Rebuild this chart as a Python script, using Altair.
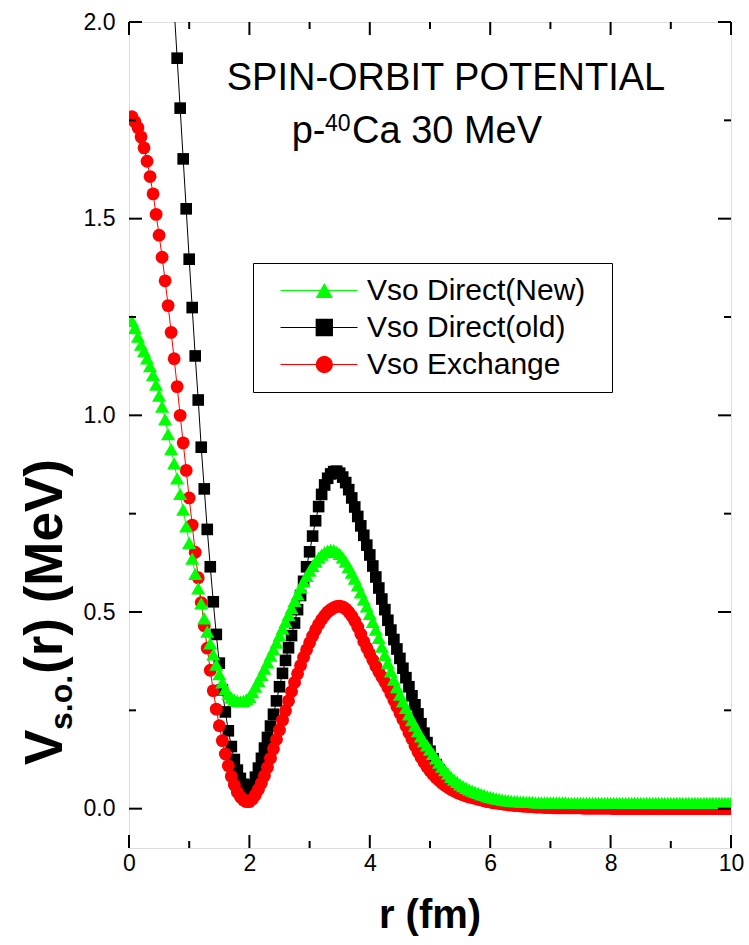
import altair as alt
import pandas as pd

FONT = "Liberation Sans"

NAMES = ["Vso Direct(New)", "Vso Direct(old)", "Vso Exchange"]
COLORS = ["#00ff00", "#000000", "#ff0000"]
SHAPES = ["triangle-up", "square", "circle"]
MARK_SIZES = {"Vso Direct(New)": 200, "Vso Direct(old)": 135, "Vso Exchange": 165}

X_MAJOR = [0, 2, 4, 6, 8, 10]
X_MINOR = [1, 3, 5, 7, 9]
Y_MAJOR = [0.0, 0.5, 1.0, 1.5, 2.0]
Y_MINOR = [0.25, 0.75, 1.25, 1.75]

# r = 0.05 ... 10.00 fm (step 0.05)
vso_direct_new = [
    1.240, 1.222, 1.200, 1.180, 1.163, 1.145, 1.125, 1.103, 1.078, 1.050,
    1.022, 0.990, 0.952, 0.914, 0.878, 0.840, 0.800, 0.760, 0.718, 0.676,
    0.636, 0.597, 0.560, 0.522, 0.484, 0.450, 0.420, 0.392, 0.366, 0.342,
    0.321, 0.304, 0.291, 0.282, 0.277, 0.274, 0.273, 0.274, 0.278, 0.284,
    0.296, 0.310, 0.325, 0.340, 0.356, 0.372, 0.389, 0.405, 0.422, 0.440,
    0.458, 0.475, 0.493, 0.510, 0.528, 0.545, 0.562, 0.578, 0.592, 0.605,
    0.617, 0.628, 0.638, 0.646, 0.652, 0.656, 0.658, 0.657, 0.653, 0.648,
    0.639, 0.628, 0.615, 0.600, 0.585, 0.568, 0.550, 0.532, 0.514, 0.495,
    0.475, 0.455, 0.434, 0.412, 0.391, 0.370, 0.349, 0.328, 0.309, 0.290,
    0.273, 0.256, 0.240, 0.225, 0.211, 0.197, 0.184, 0.172, 0.161, 0.150,
    0.139, 0.128, 0.117, 0.107, 0.098, 0.089, 0.081, 0.074, 0.068, 0.062,
    0.057, 0.053, 0.049, 0.046, 0.043, 0.040, 0.037, 0.035, 0.032, 0.030,
    0.028, 0.026, 0.025, 0.023, 0.022, 0.021, 0.020, 0.019, 0.019, 0.018,
    0.018, 0.017, 0.017, 0.017, 0.016, 0.016, 0.016, 0.016, 0.016, 0.016,
    0.016, 0.016, 0.016, 0.016, 0.016, 0.015, 0.015, 0.015, 0.015, 0.015,
    0.015, 0.015, 0.015, 0.015, 0.015, 0.015, 0.015, 0.015, 0.015, 0.015,
    0.015, 0.015, 0.015, 0.015, 0.015, 0.015, 0.015, 0.015, 0.015, 0.015,
    0.015, 0.015, 0.015, 0.015, 0.015, 0.015, 0.015, 0.015, 0.015, 0.015,
    0.015, 0.015, 0.015, 0.015, 0.015, 0.015, 0.015, 0.015, 0.015, 0.015,
    0.015, 0.015, 0.015, 0.015, 0.015, 0.015, 0.015, 0.015, 0.015, 0.015,
]

# r = 0.05 ... 10.00 fm (step 0.05)
vso_exchange = [
    1.759, 1.746, 1.731, 1.708, 1.680, 1.646, 1.607, 1.563, 1.511, 1.458,
    1.402, 1.342, 1.279, 1.211, 1.144, 1.073, 1.000, 0.930, 0.860, 0.790,
    0.721, 0.652, 0.587, 0.524, 0.465, 0.408, 0.352, 0.300, 0.253, 0.211,
    0.173, 0.139, 0.109, 0.082, 0.060, 0.042, 0.030, 0.022, 0.018, 0.018,
    0.024, 0.035, 0.049, 0.065, 0.084, 0.105, 0.128, 0.152, 0.176, 0.200,
    0.225, 0.249, 0.274, 0.298, 0.321, 0.343, 0.364, 0.385, 0.404, 0.422,
    0.439, 0.455, 0.469, 0.481, 0.491, 0.500, 0.506, 0.511, 0.514, 0.515,
    0.513, 0.508, 0.500, 0.490, 0.477, 0.462, 0.444, 0.425, 0.409, 0.394,
    0.378, 0.362, 0.348, 0.335, 0.322, 0.308, 0.292, 0.276, 0.260, 0.243,
    0.227, 0.210, 0.193, 0.177, 0.160, 0.145, 0.131, 0.118, 0.106, 0.096,
    0.087, 0.079, 0.072, 0.065, 0.059, 0.054, 0.049, 0.045, 0.041, 0.038,
    0.035, 0.032, 0.030, 0.028, 0.026, 0.024, 0.022, 0.020, 0.018, 0.017,
    0.015, 0.014, 0.013, 0.012, 0.011, 0.010, 0.009, 0.008, 0.008, 0.007,
    0.006, 0.006, 0.005, 0.005, 0.004, 0.004, 0.004, 0.003, 0.003, 0.003,
    0.002, 0.002, 0.002, 0.002, 0.002, 0.002, 0.002, 0.002, 0.002, 0.002,
    0.001, 0.001, 0.001, 0.001, 0.001, 0.001, 0.001, 0.001, 0.001, 0.001,
    0.000, 0.000, 0.000, 0.000, 0.000, 0.000, 0.000, 0.000, 0.000, 0.000,
    0.000, 0.000, 0.000, 0.000, 0.000, 0.000, 0.000, 0.000, 0.000, 0.000,
    0.000, 0.000, 0.000, 0.000, 0.000, 0.000, 0.000, 0.000, 0.000, 0.000,
    0.000, 0.000, 0.000, 0.000, 0.000, 0.000, 0.000, 0.000, 0.000, 0.000,
]

# r = 0.75 ... 10.00 fm (step 0.05); values above 2.0 run off the top
vso_direct_old = [
    2.035, 1.908, 1.781, 1.652, 1.525, 1.397,
    1.274, 1.151, 1.039, 0.919, 0.813, 0.710, 0.615, 0.526, 0.443, 0.370,
    0.302, 0.246, 0.198, 0.158, 0.125, 0.098, 0.077, 0.062, 0.053, 0.050,
    0.060, 0.080, 0.103, 0.128, 0.154, 0.181, 0.210, 0.240, 0.274, 0.310,
    0.344, 0.377, 0.409, 0.440, 0.472, 0.506, 0.542, 0.578, 0.615, 0.653,
    0.693, 0.732, 0.768, 0.799, 0.823, 0.840, 0.851, 0.857, 0.858, 0.853,
    0.843, 0.829, 0.811, 0.790, 0.767, 0.743, 0.719, 0.695, 0.670, 0.645,
    0.617, 0.589, 0.561, 0.533, 0.506, 0.479, 0.454, 0.430, 0.406, 0.382,
    0.357, 0.333, 0.310, 0.287, 0.264, 0.241, 0.216, 0.192, 0.168, 0.146,
    0.127, 0.112, 0.099, 0.088, 0.078, 0.070, 0.063, 0.057, 0.052, 0.047,
    0.043, 0.039, 0.036, 0.033, 0.030, 0.028, 0.026, 0.024, 0.022, 0.020,
    0.018, 0.016, 0.015, 0.014, 0.013, 0.012, 0.011, 0.010, 0.009, 0.009,
    0.008, 0.008, 0.007, 0.007, 0.006, 0.006, 0.006, 0.005, 0.005, 0.005,
    0.004, 0.004, 0.004, 0.004, 0.004, 0.004, 0.004, 0.004, 0.004, 0.004,
    0.003, 0.003, 0.003, 0.003, 0.003, 0.003, 0.003, 0.003, 0.003, 0.003,
    0.002, 0.002, 0.002, 0.002, 0.002, 0.002, 0.002, 0.002, 0.002, 0.002,
    0.002, 0.002, 0.002, 0.002, 0.002, 0.002, 0.002, 0.002, 0.002, 0.002,
    0.001, 0.001, 0.001, 0.001, 0.001, 0.001, 0.001, 0.001, 0.001, 0.001,
    0.001, 0.001, 0.001, 0.001, 0.001, 0.001, 0.001, 0.001, 0.001, 0.001,
]

r_full = [round(0.05 * (i + 1), 2) for i in range(len(vso_direct_new))]
r_old = [round(0.75 + 0.05 * i, 2) for i in range(len(vso_direct_old))]

# drawing order: black, red, green (green on top)
df = pd.concat([
    pd.DataFrame({"r": r_old, "v": vso_direct_old, "series": NAMES[1]}),
    pd.DataFrame({"r": r_full, "v": vso_exchange, "series": NAMES[2]}),
    pd.DataFrame({"r": r_full, "v": vso_direct_new, "series": NAMES[0]}),
], ignore_index=True)

W, H = 602, 826
xscale = alt.Scale(domain=[0, 10], nice=False, zero=False)
yscale = alt.Scale(domain=[-0.1, 2.0], nice=False, zero=False)
MAJ, MIN = 13, 7
TICK_COLOR = "#000000"

# suffix: keeps the line-legend scale separate from the marker legend and
# widens the legend box (trailing zero-width char keeps the spaces)
LSUF = "\u00a0\u00a0\u200b"

line_legend = alt.Legend(
    orient="none", legendX=124, legendY=241, title=None, padding=9,
    strokeColor="black", fillColor="transparent", clipHeight=37, rowPadding=0,
    symbolType="M-0.621,0H1", symbolSize=9025, symbolStrokeWidth=1,
    symbolFillColor="transparent", labelOffset=9, labelFontSize=30,
    labelFont=FONT, labelColor="black", labelLimit=500,
)

point_legend = alt.Legend(
    orient="none", legendX=180.3, legendY=250, title=None, padding=0,
    clipHeight=37, rowPadding=0, symbolSize=300, symbolStrokeWidth=0,
    labelOpacity=0, labelFontSize=30, labelFont=FONT, labelOffset=0,
    labelExpr="'.'",
)

x_label_axis = alt.Axis(orient="bottom", values=X_MAJOR, ticks=False,
                        domain=False, grid=False, labels=True,
                        labelFontSize=23, labelFont=FONT, labelColor="black",
                        labelPadding=4, format="d", labelFlush=False,
                        labelOverlap=False, title=None)
y_label_axis = alt.Axis(orient="left", values=Y_MAJOR, ticks=False,
                        domain=False, grid=False, labels=True,
                        labelFontSize=23, labelFont=FONT, labelColor="black",
                        labelPadding=14, format=".1f", labelFlush=False,
                        labelOverlap=False, title=None)

lines = alt.Chart(df).transform_calculate(
    series_l=f"datum.series + '{LSUF}'"
).mark_line(strokeWidth=1, clip=True).encode(
    x=alt.X("r:Q", scale=xscale, axis=x_label_axis),
    y=alt.Y("v:Q", scale=yscale, axis=y_label_axis),
    stroke=alt.Stroke("series_l:N",
                      scale=alt.Scale(domain=[n + LSUF for n in NAMES], range=COLORS),
                      legend=line_legend),
    order=alt.Order("r:Q"),
)

point_layers = []
for name in [NAMES[1], NAMES[2], NAMES[0]]:
    point_layers.append(
        alt.Chart(df).transform_filter(alt.datum.series == name)
        .mark_point(filled=True, opacity=1, size=MARK_SIZES[name], clip=True)
        .encode(
            x=alt.X("r:Q", scale=xscale, axis=None),
            y=alt.Y("v:Q", scale=yscale, axis=None),
            color=alt.Color("series:N", scale=alt.Scale(domain=NAMES, range=COLORS),
                            legend=point_legend),
            shape=alt.Shape("series:N", scale=alt.Scale(domain=NAMES, range=SHAPES),
                            legend=point_legend),
        )
    )


def ticks(values, side, length):
    if side in ("bottom", "top"):
        src = pd.DataFrame({"r": values})
        enc = dict(x=alt.X("r:Q", scale=xscale, axis=None))
        if side == "bottom":
            enc.update(y=alt.value(H), y2=alt.value(H - length))
        else:
            enc.update(y=alt.value(0), y2=alt.value(length))
    else:
        src = pd.DataFrame({"v": values})
        enc = dict(y=alt.Y("v:Q", scale=yscale, axis=None))
        if side == "left":
            enc.update(x=alt.value(0), x2=alt.value(length))
        else:
            enc.update(x=alt.value(W), x2=alt.value(W - length))
    return alt.Chart(src).mark_rule(color=TICK_COLOR, strokeWidth=2).encode(**enc)


tick_layers = []
for side in ("bottom", "top"):
    tick_layers.append(ticks(X_MAJOR, side, MAJ))
    tick_layers.append(ticks(X_MINOR, side, MIN))
for side in ("left", "right"):
    tick_layers.append(ticks(Y_MAJOR, side, MAJ))
    tick_layers.append(ticks(Y_MINOR, side, MIN))


def txt(s, x, y, size, weight="normal", angle=0, align="left"):
    kw = dict(text=s, fontSize=size, font=FONT, color="black", align=align,
              baseline="alphabetic", fontWeight=weight)
    if angle:
        kw["angle"] = angle
    return alt.Chart(alt.Data(values=[{}])).mark_text(**kw).encode(
        x=alt.value(x), y=alt.value(y))


texts = [
    txt("SPIN-ORBIT POTENTIAL", 97.7, 68, 38),
    txt("p-", 162.7, 121.3, 38),
    txt("40", 196, 109, 23),
    txt("Ca 30 MeV", 223, 121.3, 38),
    txt("r (fm)", 301, 906, 40, "bold", align="center"),
    txt("V", -67, 743, 53, "bold", angle=270),
    txt("s.o.", -57, 708, 32, "bold", angle=270),
    txt("(r) (MeV)", -67, 652, 53, "bold", angle=270),
]

chart = alt.layer(lines, *point_layers, *tick_layers, *texts).resolve_axis(
    x="independent", y="independent"
).properties(
    width=W, height=H,
    padding={"left": 129, "top": 22, "right": 18, "bottom": 97},
    autosize=alt.AutoSizeParams(type="none"),
).configure_view(stroke="black", strokeWidth=2).configure(background="white")

chart.save("out.html", embed_options={"renderer": "svg", "actions": False})
